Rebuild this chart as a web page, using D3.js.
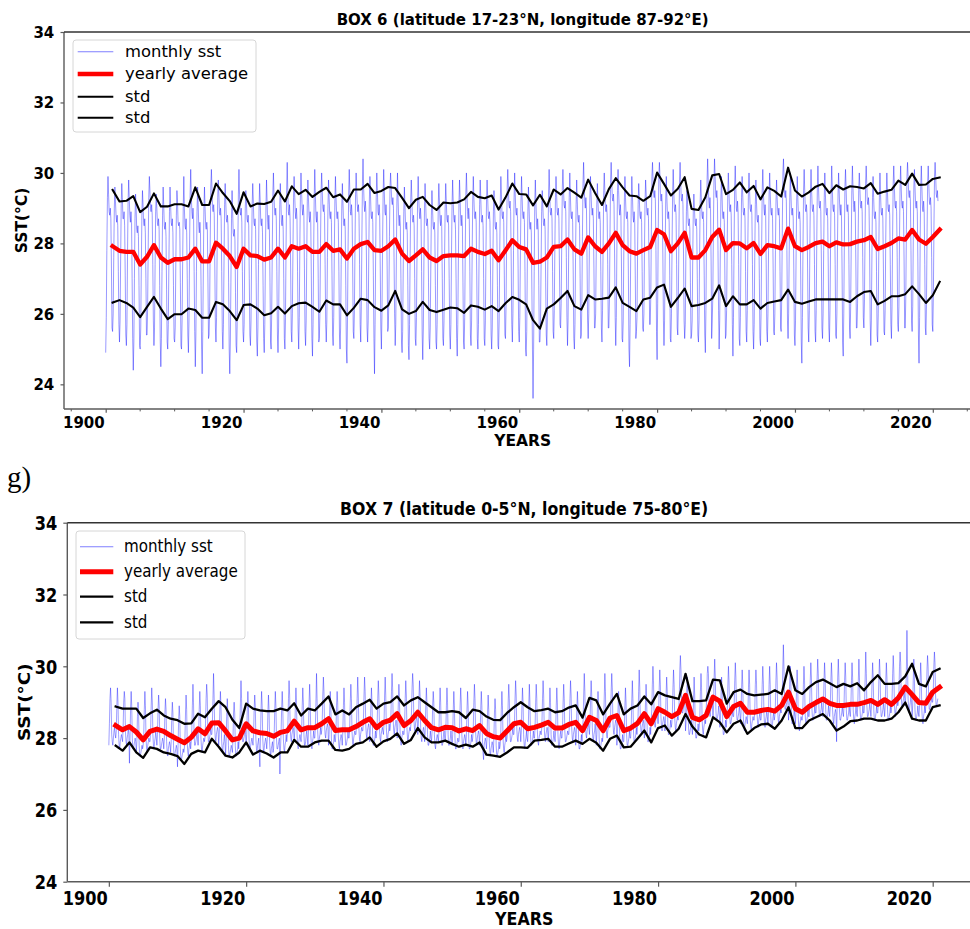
<!DOCTYPE html>
<html>
<head>
<meta charset="utf-8">
<script src="https://cdn.jsdelivr.net/npm/d3@7"></script>
<style>
  html, body { margin: 0; padding: 0; background: #fff; }
  svg { display: block; }
</style>
</head>
<body>
<svg id="chart" width="970" height="929"></svg>
<script>
// ---------------------------------------------------------------------------
// Data
// ---------------------------------------------------------------------------
const firstYear = 1900;               // first year of the monthly record
const titles = [
  "BOX 6 (latitude 17-23°N, longitude 87-92°E)",
  "BOX 7 (latitude 0-5°N, longitude 75-80°E)"
];
const legendLabels = ["monthly sst", "yearly average", "std", "std"];
const xTicks = [1900, 1920, 1940, 1960, 1980, 2000, 2020];
const xMinorTicks = [1895, 1905, 1910, 1915, 1925, 1930, 1935, 1945, 1950, 1955, 1965, 1970, 1975,
                     1985, 1990, 1995, 2005, 2010, 2015, 2025];
const yTicks = [24, 26, 28, 30, 32, 34];
const panelTag = "g)";

// BOX 6 monthly SST, one row per year (Jan..Dec), tenths of a degree C
const box6Monthly = [
[249,259,278,293,299,294,289,288,290,287,273,256],
[255,260,276,290,296,292,288,286,288,285,272,257],
[252,258,275,291,297,293,287,287,289,285,271,254],
[251,257,277,292,298,293,288,286,289,286,270,253],
[244,252,270,287,294,290,284,283,285,282,268,251],
[250,256,273,288,295,291,286,285,287,283,270,254],
[254,262,279,293,299,295,290,289,291,288,274,258],
[251,256,274,289,294,290,286,285,287,284,268,252],
[245,253,272,288,296,291,285,284,286,282,267,252],
[250,257,274,289,296,291,286,285,287,283,268,253],
[252,256,273,288,295,292,286,285,286,284,269,251],
[250,258,275,290,299,290,285,284,287,283,270,254],
[249,258,278,294,301,294,289,287,290,287,272,255],
[245,254,272,289,296,291,285,283,286,283,268,250],
[243,255,273,290,296,290,285,284,286,284,269,253],
[254,262,281,296,301,296,290,289,291,288,273,256],
[252,259,278,293,298,294,289,288,290,287,272,255],
[250,257,275,291,297,292,287,286,288,285,269,250],
[243,252,269,287,295,289,283,282,284,281,266,251],
[249,258,278,294,301,294,289,288,290,286,272,255],
[252,257,275,290,295,292,287,286,288,285,270,254],
[251,258,276,291,297,292,286,285,287,284,269,252],
[248,256,274,290,297,292,286,285,287,283,268,253],
[249,257,275,290,298,292,286,284,288,284,269,252],
[250,260,278,294,300,294,289,288,290,287,272,254],
[249,256,275,291,297,292,286,285,288,284,270,253],
[250,259,279,295,303,295,289,288,291,287,273,255],
[252,260,278,293,299,294,289,287,290,287,272,256],
[250,259,279,294,300,295,290,288,291,288,273,255],
[251,258,276,292,298,293,288,286,289,286,271,253],
[248,257,277,293,301,294,288,286,289,286,270,252],
[253,261,280,295,300,295,290,289,291,288,274,257],
[252,258,276,291,298,293,288,287,289,286,271,254],
[251,259,277,292,299,293,288,287,289,286,272,254],
[250,256,274,290,297,292,286,285,287,284,268,250],
[246,259,279,294,301,295,289,288,291,288,273,255],
[253,261,279,294,300,295,291,289,291,288,274,257],
[252,262,281,297,304,296,291,289,292,289,275,256],
[252,258,277,292,299,294,288,287,289,286,271,253],
[243,257,277,293,300,295,289,288,291,288,273,256],
[250,260,279,294,301,295,289,288,291,288,273,255],
[256,264,282,296,300,296,292,291,293,290,276,260],
[251,257,275,292,300,293,287,285,288,285,270,252],
[249,255,273,289,296,291,285,284,286,283,268,251],
[247,257,276,292,298,293,287,286,288,285,270,253],
[251,259,277,292,299,293,289,287,290,287,272,254],
[247,256,275,290,297,292,286,285,287,284,269,253],
[250,256,273,288,295,290,285,284,286,283,268,252],
[250,257,275,291,297,292,287,285,288,285,270,253],
[251,258,276,290,297,292,287,286,288,285,270,254],
[250,257,276,291,298,292,287,286,288,284,270,253],
[248,257,275,291,298,293,287,285,288,285,269,252],
[250,259,278,294,300,294,289,287,290,287,272,254],
[251,258,277,292,299,293,288,287,289,286,271,253],
[250,257,276,291,298,293,287,286,288,285,270,253],
[251,258,277,292,298,293,288,287,289,286,271,254],
[250,256,273,289,295,291,285,284,286,283,268,251],
[250,258,277,292,299,294,288,287,289,286,271,254],
[253,262,281,296,301,296,291,290,292,289,275,257],
[252,260,278,293,300,294,289,288,290,287,273,255],
[252,259,277,292,299,293,288,287,289,286,272,250],
[248,255,273,289,296,291,285,284,286,283,267,250],
[236,250,272,291,298,292,286,284,287,284,268,252],
[252,257,274,289,295,291,286,285,287,284,269,254],
[251,260,279,294,301,295,289,288,290,287,272,255],
[253,261,279,293,299,294,289,288,290,287,273,257],
[256,263,281,296,301,296,291,290,292,289,276,259],
[251,258,277,293,300,294,288,287,289,286,271,253],
[250,257,276,291,298,292,287,286,288,285,270,253],
[254,263,282,297,303,297,292,290,293,290,276,258],
[253,260,278,293,299,294,290,288,290,287,273,256],
[256,260,277,291,297,292,288,287,289,286,272,256],
[252,261,279,295,300,295,290,289,291,288,274,256],
[256,264,283,298,303,298,293,292,294,291,277,259],
[251,259,279,295,301,295,290,288,291,288,273,253],
[252,258,277,292,299,293,288,287,289,286,271,250],
[245,257,276,292,299,294,288,286,289,286,271,253],
[255,259,277,291,297,293,288,287,289,286,272,256],
[255,260,278,292,298,294,289,288,290,287,273,257],
[257,265,284,299,303,298,294,293,295,292,278,255],
[247,263,284,299,303,299,293,292,294,291,277,258],
[251,258,277,292,299,293,288,287,289,286,271,253],
[252,260,279,294,301,295,290,289,291,288,274,256],
[254,263,283,298,303,298,293,292,294,291,277,258],
[253,257,275,289,295,291,286,285,287,284,269,253],
[254,258,275,289,294,290,286,285,287,284,270,254],
[252,258,277,292,298,293,288,287,289,286,271,254],
[249,261,282,298,304,298,292,290,293,290,275,253],
[258,265,284,298,304,299,294,293,295,292,278,261],
[250,258,277,292,299,294,288,287,289,286,271,253],
[254,261,279,294,300,295,290,289,291,288,274,257],
[248,259,280,296,302,296,290,289,292,289,274,253],
[251,259,278,293,299,294,289,288,290,287,272,255],
[252,261,280,295,300,295,290,289,291,288,274,255],
[250,257,276,291,298,292,287,286,288,285,270,253],
[251,260,279,295,301,295,290,288,291,288,273,255],
[252,260,278,294,300,294,289,288,290,287,273,255],
[254,260,278,292,298,293,289,288,290,287,272,256],
[255,265,285,300,304,299,294,293,295,292,278,258],
[253,260,278,293,300,294,289,288,290,287,273,254],
[251,258,277,292,299,293,288,287,289,286,271,252],
[246,259,279,295,301,295,290,289,291,288,273,256],
[252,261,280,295,301,295,290,289,291,288,274,255],
[252,261,281,296,302,296,291,290,292,289,275,256],
[253,260,278,293,300,294,289,288,290,287,273,256],
[252,261,280,295,302,296,290,289,291,288,274,254],
[253,260,279,294,300,295,290,288,291,288,273,252],
[248,260,280,296,301,296,290,289,291,288,274,256],
[253,262,280,295,302,296,291,289,292,289,275,256],
[256,263,281,295,300,296,291,290,292,289,276,259],
[256,264,282,297,302,297,292,291,293,290,277,258],
[251,258,277,293,299,293,288,287,289,286,272,254],
[252,260,278,293,300,294,289,288,290,287,273,255],
[254,261,280,294,300,295,290,289,291,288,274,257],
[253,262,282,297,302,297,291,290,292,289,276,257],
[255,262,281,296,302,296,291,290,292,289,275,256],
[256,265,284,299,303,299,294,293,295,292,278,258],
[255,262,281,296,301,296,291,290,292,289,275,254],
[246,259,280,296,302,296,290,289,292,289,274,256],
[254,263,283,297,302,297,292,291,293,290,276,257],
[255,266,285,299,303,299,294,293,295,292]
];

// BOX 6 annual statistics (degrees C), one value per year of the record
const box6Mean = [
27.92,27.79,27.76,27.76,27.40,27.62,27.95,27.60,27.45,27.55,
27.55,27.60,27.85,27.49,27.49,28.02,27.85,27.64,27.33,27.85,
27.66,27.64,27.54,27.60,27.85,27.60,27.92,27.85,27.92,27.76,
27.76,27.98,27.79,27.83,27.57,27.85,27.98,28.04,27.81,27.79,
27.92,28.11,27.71,27.50,27.66,27.83,27.60,27.50,27.64,27.66,
27.66,27.64,27.85,27.76,27.70,27.79,27.52,27.80,28.09,27.90,
27.83,27.45,27.48,27.60,27.90,27.92,28.11,27.83,27.71,28.17,
27.92,27.76,28.00,28.30,27.95,27.78,27.71,27.81,27.90,28.38,
28.26,27.78,28.00,28.30,27.60,27.60,27.81,28.18,28.39,27.81,
28.01,28.00,27.86,28.01,27.70,27.95,27.92,27.86,28.42,27.92,
27.81,27.90,28.01,28.05,27.92,28.03,27.97,27.98,28.05,28.09,
28.18,27.84,27.92,28.01,28.14,28.11,28.38,28.11,27.99,28.18,
28.39
];
const box6StdUpper = [
29.52,29.19,29.21,29.34,28.89,29.04,29.42,29.05,29.05,29.11,
29.11,29.05,29.59,29.09,29.09,29.70,29.43,29.20,28.84,29.45,
29.05,29.13,29.12,29.18,29.50,29.19,29.62,29.40,29.52,29.32,
29.46,29.58,29.31,29.39,29.18,29.53,29.53,29.69,29.43,29.49,
29.60,29.57,29.29,29.00,29.24,29.32,29.09,28.95,29.16,29.14,
29.16,29.25,29.46,29.32,29.28,29.36,28.96,29.30,29.70,29.40,
29.39,29.08,29.38,29.05,29.53,29.39,29.57,29.44,29.30,29.81,
29.43,29.09,29.54,29.85,29.59,29.36,29.34,29.21,29.34,30.01,
29.69,29.36,29.55,29.88,28.98,28.95,29.31,29.93,29.97,29.40,
29.52,29.73,29.45,29.63,29.25,29.59,29.49,29.33,30.15,29.50,
29.33,29.45,29.61,29.69,29.43,29.65,29.53,29.62,29.60,29.56,
29.71,29.41,29.47,29.52,29.78,29.66,29.98,29.66,29.67,29.83,
29.87
];
const box6StdLower = [
26.32,26.39,26.31,26.18,25.91,26.20,26.48,26.15,25.85,25.99,
25.99,26.15,26.11,25.89,25.89,26.34,26.27,26.08,25.82,26.25,
26.27,26.15,25.96,26.02,26.20,26.01,26.22,26.30,26.32,26.20,
26.06,26.38,26.27,26.27,25.96,26.17,26.43,26.39,26.19,26.09,
26.24,26.65,26.13,26.00,26.08,26.34,26.11,26.05,26.12,26.18,
26.16,26.03,26.24,26.20,26.12,26.22,26.08,26.30,26.48,26.40,
26.27,25.82,25.58,26.15,26.27,26.45,26.65,26.22,26.12,26.53,
26.41,26.43,26.46,26.75,26.31,26.20,26.08,26.41,26.46,26.75,
26.83,26.20,26.45,26.72,26.22,26.25,26.31,26.43,26.81,26.22,
26.50,26.27,26.27,26.39,26.15,26.31,26.35,26.39,26.69,26.34,
26.29,26.35,26.41,26.41,26.41,26.41,26.41,26.34,26.50,26.62,
26.65,26.27,26.37,26.50,26.50,26.56,26.78,26.56,26.31,26.53,
26.91
];

// BOX 7 monthly SST, one row per year (Jan..Dec), tenths of a degree C
const box7Monthly = [
[278,284,291,294,290,281,279,278,280,282,283,281],
[280,282,289,294,290,281,278,277,279,280,281,280],
[279,283,290,293,291,282,279,278,280,281,283,281],
[273,280,288,293,289,280,277,277,278,279,280,279],
[276,279,286,290,287,278,275,275,276,277,278,277],
[278,281,288,293,289,280,277,276,278,279,280,279],
[279,282,289,294,290,281,278,277,279,280,282,280],
[278,281,288,292,289,280,277,277,278,279,280,279],
[277,280,287,291,288,279,276,275,277,278,279,278],
[276,279,286,290,287,278,275,275,276,277,278,277],
[272,278,285,289,286,277,274,274,275,276,277,276],
[277,280,287,292,288,279,276,275,277,278,279,277],
[279,282,289,295,290,281,278,278,279,280,282,280],
[278,281,288,293,289,280,277,276,278,279,280,279],
[280,284,291,295,292,282,279,279,280,281,283,281],
[281,284,291,298,292,283,280,279,281,282,283,282],
[278,281,288,293,289,280,277,276,278,279,281,279],
[275,279,286,291,287,278,275,275,276,277,278,277],
[276,280,287,290,287,278,275,275,276,277,279,277],
[280,283,290,296,291,282,279,279,280,281,282,281],
[278,281,288,293,289,280,277,277,278,279,280,279],
[278,281,288,292,289,280,277,276,278,279,280,276],
[272,280,288,293,289,280,277,276,278,279,280,279],
[277,280,287,292,288,279,276,275,277,278,279,276],
[277,281,288,293,289,280,277,277,278,279,280,270],
[277,281,288,293,289,280,277,276,278,279,281,279],
[281,284,291,296,292,283,280,279,281,282,283,282],
[279,282,289,294,290,281,278,277,279,280,281,280],
[279,282,289,294,290,281,278,278,279,281,282,280],
[278,282,290,295,290,281,278,277,279,280,282,280],
[280,283,290,298,291,282,279,278,280,281,283,281],
[282,285,292,297,293,284,281,280,282,283,284,283],
[278,281,288,293,289,280,277,277,278,279,281,279],
[279,282,289,293,290,281,278,277,279,280,281,280],
[278,282,289,294,290,281,278,278,279,280,282,280],
[280,283,290,295,291,282,279,278,280,281,282,281],
[281,284,291,297,292,283,280,279,281,282,283,282],
[282,285,292,297,293,284,281,280,282,283,284,283],
[279,282,289,294,290,281,278,278,279,280,282,280],
[281,284,291,296,292,283,280,279,281,282,283,282],
[281,284,292,297,292,283,280,279,281,282,284,282],
[283,286,293,298,294,285,282,281,283,284,285,284],
[280,283,290,295,291,282,279,278,280,281,282,281],
[281,284,291,296,292,283,280,279,281,282,283,282],
[284,287,294,298,295,286,283,282,284,285,286,285],
[281,284,291,296,292,283,280,279,281,282,283,282],
[279,282,289,294,290,281,278,278,279,280,282,280],
[279,282,289,293,290,281,278,277,279,280,281,280],
[279,282,289,294,290,282,278,278,279,281,282,280],
[279,282,289,294,290,281,278,278,279,280,282,280],
[278,281,288,293,289,280,277,277,278,279,280,279],
[279,282,289,294,290,281,278,277,279,280,281,280],
[278,281,288,293,289,280,277,277,278,279,281,279],
[280,283,290,295,291,282,279,278,280,281,282,281],
[278,281,288,293,289,280,276,274,278,279,280,279],
[277,280,287,292,288,279,276,275,277,278,279,278],
[276,280,287,291,288,278,275,275,276,277,279,277],
[278,281,288,293,289,280,277,276,278,279,281,279],
[280,283,290,295,291,282,279,279,280,281,283,281],
[281,284,291,296,292,283,280,279,281,282,283,282],
[279,282,289,294,290,281,278,277,279,280,282,280],
[279,282,289,295,290,281,278,278,279,280,282,280],
[280,283,290,295,291,282,279,278,280,281,282,281],
[281,284,291,296,292,283,280,279,281,282,283,282],
[279,282,289,294,290,281,278,278,279,280,282,280],
[279,282,289,294,290,281,278,277,279,281,282,280],
[280,283,290,295,291,282,279,279,280,281,282,281],
[281,284,291,296,292,283,280,279,281,282,283,282],
[278,281,288,293,289,280,277,277,278,279,281,279],
[282,285,292,298,293,284,281,280,282,283,285,283],
[281,284,291,296,292,283,280,279,281,282,284,282],
[278,281,288,293,289,280,277,277,278,279,280,279],
[282,285,292,298,293,284,281,280,282,283,284,283],
[283,286,293,298,294,285,282,281,283,284,285,284],
[278,281,288,293,289,280,277,277,278,279,281,279],
[279,282,289,294,290,281,278,278,279,280,282,280],
[280,283,290,296,291,282,279,279,280,281,283,281],
[283,286,293,299,294,285,282,281,283,284,285,284],
[280,283,290,295,291,282,279,279,280,281,283,281],
[285,288,295,300,296,287,284,283,285,286,287,286],
[284,287,294,299,295,286,283,282,284,285,286,285],
[282,285,292,297,293,284,281,281,282,283,285,283],
[284,287,294,299,295,286,283,282,284,285,286,285],
[287,291,299,303,299,290,287,287,288,289,291,289],
[282,285,292,297,293,284,281,281,282,283,285,283],
[281,284,291,297,292,283,280,280,281,282,284,282],
[283,286,293,298,294,285,282,281,283,284,285,284],
[288,291,298,300,298,290,287,286,288,289,290,289],
[286,289,297,302,297,288,285,285,286,287,289,287],
[283,285,292,297,293,284,281,281,282,283,285,283],
[285,288,295,300,296,287,284,284,285,286,288,286],
[286,289,296,301,297,288,285,285,286,287,289,287],
[284,287,294,299,295,286,283,282,284,285,286,285],
[284,287,294,299,295,286,283,282,284,285,286,285],
[285,288,295,299,296,287,284,283,285,286,287,285],
[285,288,295,300,296,287,284,283,285,286,288,286],
[284,287,295,300,295,286,283,283,284,286,287,285],
[286,289,296,301,297,288,285,284,286,287,288,287],
[289,292,299,306,300,291,288,288,289,290,292,290],
[285,288,295,300,296,287,284,284,285,286,288,286],
[284,287,294,299,295,286,283,282,284,285,286,285],
[285,288,295,300,296,287,284,284,285,286,288,286],
[286,289,296,301,297,288,285,285,286,287,289,287],
[287,290,297,302,298,289,286,286,287,288,290,288],
[286,289,296,301,297,288,285,285,286,287,289,287],
[286,289,296,301,297,288,285,284,286,287,288,287],
[279,289,297,302,297,288,285,285,286,287,289,287],
[286,289,296,301,297,288,285,285,286,287,289,287],
[286,289,296,301,297,288,285,284,286,287,289,287],
[286,289,296,302,297,288,285,285,286,287,289,287],
[287,290,297,304,298,289,286,286,287,288,290,288],
[286,289,296,301,297,288,285,285,286,287,289,287],
[287,290,297,302,298,289,286,286,287,288,290,288],
[286,289,296,301,297,288,285,285,286,287,289,287],
[288,291,298,303,299,290,287,286,288,289,291,289],
[290,293,300,304,301,292,289,289,290,291,293,291],
[289,292,299,310,300,291,288,287,289,290,292,290],
[286,289,296,302,297,288,285,285,286,287,289,287],
[286,289,296,301,297,288,285,284,286,287,289,287],
[289,292,299,303,300,291,288,288,289,290,292,290],
[290,293,300,304,301,292,289,289,290,291]
];

// BOX 7 annual statistics (degrees C)
const box7Mean = [
28.35,28.23,28.32,28.17,27.95,28.19,28.25,28.19,28.07,27.97,
27.87,28.02,28.26,28.12,28.42,28.43,28.20,27.95,28.00,28.40,
28.20,28.15,28.13,28.05,28.16,28.20,28.47,28.23,28.29,28.29,
28.40,28.54,28.21,28.23,28.23,28.32,28.44,28.54,28.29,28.44,
28.50,28.68,28.35,28.49,28.72,28.49,28.29,28.23,28.30,28.29,
28.20,28.26,28.21,28.35,28.13,28.04,28.00,28.20,28.40,28.44,
28.26,28.30,28.36,28.44,28.28,28.28,28.38,28.44,28.21,28.58,
28.49,28.21,28.56,28.63,28.21,28.28,28.41,28.68,28.40,28.82,
28.72,28.60,28.71,29.19,28.58,28.51,28.63,29.14,29.03,28.60,
28.88,28.97,28.72,28.72,28.77,28.80,28.75,28.91,29.28,28.82,
28.72,28.88,28.99,29.09,28.97,28.91,28.91,28.94,28.94,28.99,
29.05,28.94,29.07,28.94,29.12,29.42,29.21,28.99,28.97,29.28,
29.42
];
const box7StdUpper = [
28.88,28.82,28.82,28.82,28.56,28.69,28.79,28.63,28.54,28.50,
28.40,28.41,28.68,28.58,28.82,29.03,28.86,28.51,28.28,28.96,
28.82,28.77,28.75,28.75,28.82,28.77,28.97,28.63,28.82,28.77,
28.96,29.16,28.66,28.77,28.66,28.86,28.96,29.07,28.82,28.96,
29.00,29.16,28.91,29.05,29.14,29.00,28.86,28.72,28.72,28.75,
28.72,28.56,28.79,28.75,28.60,28.51,28.50,28.70,28.86,29.00,
28.86,28.75,28.78,28.82,28.72,28.75,28.85,28.91,28.57,29.12,
29.05,28.66,28.96,29.23,28.66,28.82,28.91,29.16,28.94,29.28,
29.19,29.14,29.09,29.79,29.03,29.03,29.05,29.63,29.61,28.96,
29.28,29.35,29.23,29.19,29.21,29.23,29.33,29.23,30.00,29.33,
29.23,29.42,29.56,29.63,29.53,29.42,29.51,29.44,29.53,29.33,
29.56,29.75,29.51,29.51,29.53,29.72,30.07,29.51,29.44,29.84,
29.93
];
const box7StdLower = [
27.79,27.65,27.88,27.60,27.45,27.74,27.70,27.60,27.56,27.50,
27.28,27.56,27.65,27.60,27.98,27.76,27.51,27.46,27.60,27.88,
27.54,27.65,27.57,27.46,27.60,27.60,27.95,27.76,27.76,27.88,
27.93,27.93,27.67,27.65,27.70,27.84,27.88,28.02,27.76,27.91,
27.98,28.13,27.84,27.95,28.28,28.02,27.88,27.88,27.93,27.84,
27.76,27.82,27.76,27.88,27.54,27.51,27.48,27.60,27.74,27.74,
27.73,27.93,27.95,27.98,27.76,27.76,27.85,27.93,27.84,27.98,
27.87,27.65,27.98,28.07,27.74,27.76,27.98,28.21,27.88,28.28,
28.35,28.07,28.26,28.67,28.32,28.10,28.02,28.58,28.44,28.16,
28.40,28.49,28.12,28.28,28.38,28.40,28.26,28.49,28.86,28.28,
28.28,28.49,28.58,28.67,28.49,28.21,28.32,28.47,28.49,28.54,
28.54,28.49,28.49,28.54,28.72,28.99,28.54,28.49,28.49,28.86,
28.91
];

// ---------------------------------------------------------------------------
// Layout and styling
// ---------------------------------------------------------------------------
const FONT = "'DejaVu Sans', sans-serif";
const SPINE = "#5a5a5a";
const X_DOMAIN = [1893.95, 2027.05];

const panels = [
  {
    id: "box6", title: titles[0],
    monthly: box6Monthly, mean: box6Mean, upper: box6StdUpper, lower: box6StdLower,
    left: 64, right: 981.4, top: 32, bottom: 409, yDomain: [23.3, 34],
    sx: 1, tickFont: 15, labelFont: 15.5, titleFont: 15, legendFont: 16.4,
    xTickLen: 3.7, yTickLen: 3.5, xLabelBase: 19.3, yLabelGap: 9.7, minor: true,
    titleBase: 25, xTitleBase: 445.7, yTitleX: 26.7,
    legend: { x: 73, y: 40, w: 183, h: 92, rows: [51.7, 74, 96.7, 117.7], h0: 77.7, h1: 113.3, tx: 125 },
    redW: 4.3, blackW: 2.1, thinW: 0.8
  },
  {
    id: "box7", title: titles[1],
    monthly: box7Monthly, mean: box7Mean, upper: box7StdUpper, lower: box7StdLower,
    left: 67.3, right: 981.1, top: 522.7, bottom: 881.7, yDomain: [24, 34],
    sx: 0.865, tickFont: 18.7, labelFont: 18.4, titleFont: 18.2, legendFont: 17.5,
    xTickLen: 5, yTickLen: 4, xLabelBase: 23.3, yLabelGap: 10, minor: false,
    titleBase: 515, xTitleBase: 924.5, yTitleX: 30,
    legend: { x: 76, y: 531, w: 169, h: 108, rows: [546.7, 571.7, 596.7, 622.3], h0: 80, h1: 113.3, tx: 124 },
    redW: 5, blackW: 2.3, thinW: 0.75
  }
];

const svg = d3.select("#chart");
svg.append("rect").attr("width", 970).attr("height", 929).attr("fill", "#fff");

// text placed through a transform so a horizontal compression can be applied
function addText(parent, x, y, str, o) {
  let tr = `translate(${x},${y}) scale(${o.sx || 1},1)`;
  if (o.rotate) tr += ` rotate(${o.rotate})`;
  return parent.append("text")
    .attr("transform", tr)
    .attr("text-anchor", o.anchor || "start")
    .attr("font-family", o.family || FONT)
    .attr("font-size", o.size)
    .attr("font-weight", o.weight || "normal")
    .attr("dy", o.dy || 0)
    .attr("fill", "#000")
    .text(str);
}

function drawPanel(p) {
  const g = svg.append("g").attr("id", p.id);
  const x = d3.scaleLinear().domain(X_DOMAIN).range([p.left, p.right]);
  const y = d3.scaleLinear().domain(p.yDomain).range([p.bottom, p.top]);

  svg.append("clipPath").attr("id", "clip-" + p.id)
    .append("rect")
    .attr("x", p.left).attr("y", p.top)
    .attr("width", p.right - p.left).attr("height", p.bottom - p.top);

  const plot = g.append("g").attr("clip-path", `url(#clip-${p.id})`);
  const line = d3.line().x(d => x(d[0])).y(d => y(d[1]));

  // monthly record: month m of year i sits at firstYear + i + m/12
  const monthly = [];
  p.monthly.forEach((row, i) => row.forEach((t, m) => monthly.push([firstYear + i + m / 12, t / 10])));
  plot.append("path").datum(monthly)
    .attr("d", line).attr("fill", "none")
    .attr("stroke", "#0000ff").attr("stroke-opacity", 0.5)
    .attr("stroke-width", p.thinW).attr("stroke-linejoin", "round");

  // annual values are stamped at the end of each year
  const annual = arr => arr.map((v, i) => [firstYear + i + 1, v]);
  plot.append("path").datum(annual(p.mean))
    .attr("d", line).attr("fill", "none")
    .attr("stroke", "#ff0000").attr("stroke-width", p.redW)
    .attr("stroke-linejoin", "round").attr("stroke-linecap", "square");
  [p.upper, p.lower].forEach(arr => {
    plot.append("path").datum(annual(arr))
      .attr("d", line).attr("fill", "none")
      .attr("stroke", "#000").attr("stroke-width", p.blackW)
      .attr("stroke-linejoin", "round").attr("stroke-linecap", "square");
  });

  // spines
  const sp = g.append("g").attr("stroke", SPINE).attr("stroke-width", 1.4);
  sp.append("line").attr("x1", p.left).attr("x2", p.left).attr("y1", p.top).attr("y2", p.bottom);
  sp.append("line").attr("x1", p.left).attr("x2", p.right).attr("y1", p.bottom).attr("y2", p.bottom);
  sp.append("line").attr("x1", p.left).attr("x2", p.right).attr("y1", p.top).attr("y2", p.top).attr("stroke", "#333");
  sp.append("line").attr("x1", p.right).attr("x2", p.right).attr("y1", p.top).attr("y2", p.bottom);

  // y axis
  const ya = g.append("g").attr("transform", `translate(${p.left},0)`)
    .call(d3.axisLeft(y).tickValues(yTicks).tickSize(p.yTickLen).tickFormat(d3.format("d")));
  ya.select(".domain").remove();
  ya.selectAll(".tick line").attr("stroke", SPINE).attr("stroke-width", 1.2);
  ya.selectAll(".tick text")
    .attr("x", null).attr("dy", "0.36em")
    .attr("transform", `translate(${-p.yLabelGap},0) scale(${p.sx},1)`)
    .attr("text-anchor", "end").attr("fill", "#000")
    .attr("font-family", FONT).attr("font-weight", "bold").attr("font-size", p.tickFont);

  // x axis
  const xa = g.append("g").attr("transform", `translate(0,${p.bottom})`)
    .call(d3.axisBottom(x).tickValues(xTicks).tickSize(p.xTickLen).tickFormat(d3.format("d")));
  xa.select(".domain").remove();
  xa.selectAll(".tick line").attr("stroke", SPINE).attr("stroke-width", 1.2);
  xa.selectAll(".tick text")
    .attr("y", null).attr("dy", null)
    .attr("transform", `translate(-1.5,${p.xLabelBase}) scale(${p.sx},1)`)
    .attr("text-anchor", "end").attr("fill", "#000")
    .attr("font-family", FONT).attr("font-weight", "bold").attr("font-size", p.tickFont);

  if (p.minor) {
    g.append("g").selectAll("line").data(xMinorTicks).join("line")
      .attr("x1", d => x(d)).attr("x2", d => x(d))
      .attr("y1", p.bottom).attr("y2", p.bottom + 2.4)
      .attr("stroke", SPINE).attr("stroke-width", 1);
  }

  // titles
  const cx = (p.left + p.right) / 2;
  addText(g, cx, p.titleBase, p.title, { size: p.titleFont, weight: "bold", anchor: "middle", sx: p.sx });
  addText(g, cx, p.xTitleBase, "YEARS", { size: p.labelFont, weight: "bold", anchor: "middle", sx: p.sx });
  addText(g, p.yTitleX, (p.top + p.bottom) / 2, "SST(°C)",
    { size: p.labelFont, weight: "bold", anchor: "middle", sx: p.sx, rotate: -90 });

  // legend
  const L = p.legend;
  const lg = g.append("g");
  lg.append("rect").attr("x", L.x).attr("y", L.y).attr("width", L.w).attr("height", L.h)
    .attr("rx", 3).attr("fill", "#fff").attr("fill-opacity", 0.85)
    .attr("stroke", "#d6d6d6").attr("stroke-width", 1);
  const handles = [
    { stroke: "#0000ff", opacity: 0.5, width: 1.1 },
    { stroke: "#ff0000", opacity: 1, width: p.redW },
    { stroke: "#000", opacity: 1, width: p.blackW },
    { stroke: "#000", opacity: 1, width: p.blackW }
  ];
  legendLabels.forEach((lab, i) => {
    const h = handles[i];
    lg.append("line").attr("x1", L.h0).attr("x2", L.h1).attr("y1", L.rows[i]).attr("y2", L.rows[i])
      .attr("stroke", h.stroke).attr("stroke-opacity", h.opacity).attr("stroke-width", h.width);
    addText(lg, L.tx, L.rows[i], lab, { size: p.legendFont, dy: "0.3em", sx: p.sx });
  });
}

panels.forEach(drawPanel);

// panel tag between the two figures
addText(svg, 7, 487, panelTag, { size: 29, family: "'Liberation Serif', 'Times New Roman', serif" });
</script>
</body>
</html>
